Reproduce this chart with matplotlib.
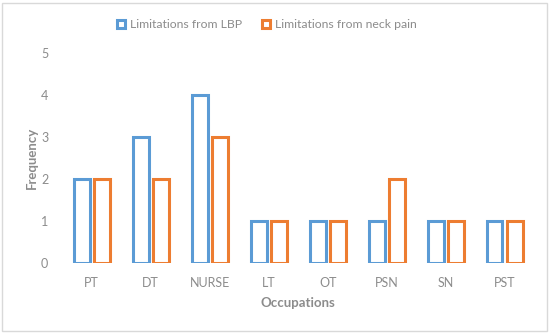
import matplotlib
matplotlib.use("Agg")
import matplotlib.pyplot as plt
import numpy as np

categories = ["PT", "DT", "NURSE", "LT", "OT", "PSN", "SN", "PST"]
lbp = [2, 3, 4, 1, 1, 1, 1, 1]
neck = [2, 2, 3, 1, 1, 2, 1, 1]

plt.rcParams['font.family'] = ['Lato', 'DejaVu Sans']
gray = '#8c8c8c'
blue = '#5B9BD5'
orange = '#ED7D31'

fig = plt.figure(figsize=(5.5, 3.33), dpi=100)
ax = fig.add_axes([0.113, 0.21, 0.858, 0.631])

x = np.arange(len(categories))
w = 0.27
off = 0.17
ax.bar(x - off, lbp, w, facecolor='white', edgecolor=blue, linewidth=2.2, label='Limitations from LBP')
ax.bar(x + off, neck, w, facecolor='white', edgecolor=orange, linewidth=2.2, label='Limitations from neck pain')

ax.set_xlim(-0.5, len(categories) - 0.5)
ax.set_ylim(0, 5)
ax.set_yticks(range(6))
ax.set_xticks(x)
ax.set_xticklabels(categories)
for s in ax.spines.values():
    s.set_visible(False)
ax.tick_params(length=0, colors=gray, labelsize=9)
ax.tick_params(axis='y', pad=10)
ax.tick_params(axis='x', pad=10)
ax.set_xlabel('Occupations', color=gray, fontsize=9.5, fontweight='bold', labelpad=6)
ax.set_ylabel('Frequency', color=gray, fontsize=9.5, fontweight='bold', labelpad=2)

leg = fig.legend(loc='center', bbox_to_anchor=(0.485, 0.925), ncol=2, frameon=False,
                 fontsize=8.8, handlelength=0.7, handleheight=0.7, columnspacing=1.6,
                 handletextpad=0.4)
for t in leg.get_texts():
    t.set_color(gray)

fig.patches.append(matplotlib.patches.Rectangle((0.004, 0.006), 0.99, 0.985, transform=fig.transFigure,
                                                fill=False, edgecolor='#d9d9d9', linewidth=1))
fig.savefig('out.png', dpi=100)
